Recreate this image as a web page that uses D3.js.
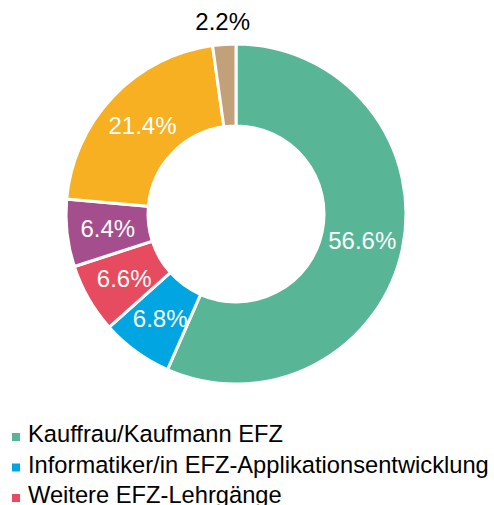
<!DOCTYPE html>
<html>
<head>
<meta charset="utf-8">
<script src="https://cdn.jsdelivr.net/npm/d3@7"></script>
<style>
  body { margin: 0; background: #fff; }
  svg { display: block; font-family: "Liberation Sans", Arial, sans-serif; }
</style>
</head>
<body>
<div id="chart"></div>
<script>
// shares in percent, clockwise from 12 o'clock
var categories = ["Kauffrau/Kaufmann EFZ", "Informatiker/in EFZ-Applikationsentwicklung", "Weitere EFZ-Lehrgänge", "EBA-Lehrgänge", "Weitere Abschlüsse", "Andere"];
var values = [56.6, 6.8, 6.6, 6.4, 21.4, 2.2];
var colors = ["#58b696", "#00a5e2", "#e74b5f", "#a44e8e", "#f6b022", "#c2a07a"];

var width = 494, height = 505;
var cx = 236, cy = 214, outerR = 170, innerR = 88;

var svg = d3.select("#chart").append("svg")
    .attr("width", width)
    .attr("height", height);

var g = svg.append("g")
    .attr("transform", "translate(" + cx + "," + cy + ")");

var pie = d3.pie().sort(null).value(function(d) { return d; });
var arc = d3.arc().innerRadius(innerR).outerRadius(outerR);
var arcs = pie(values);

g.selectAll("path.slice")
  .data(arcs)
  .enter().append("path")
    .attr("class", "slice")
    .attr("d", arc)
    .attr("fill", function(d, i) { return colors[i]; })
    .attr("stroke", "#fff")
    .attr("stroke-width", 3);

// small slices get their label outside the ring
var outerLabel = d3.arc().innerRadius(193).outerRadius(193);

g.selectAll("text.lbl")
  .data(arcs)
  .enter().append("text")
    .attr("class", "lbl")
    .attr("transform", function(d) {
      var p = d.data < 3 ? outerLabel.centroid(d) : arc.centroid(d);
      return "translate(" + p[0] + "," + p[1] + ")";
    })
    .attr("text-anchor", "middle")
    .attr("dy", "0.36em")
    .attr("font-size", 24)
    .attr("fill", function(d) { return d.data < 3 ? "#000" : "#fff"; })
    .text(function(d) { return d.data.toFixed(1) + "%"; });

// legend (only the first rows fit inside the picture)
var legend = svg.append("g").attr("transform", "translate(12,442)");
var rows = legend.selectAll("g")
  .data(categories)
  .enter().append("g")
    .attr("transform", function(d, i) { return "translate(0," + (i * 30.5) + ")"; });

rows.append("rect")
    .attr("x", 0).attr("y", -9)
    .attr("width", 8).attr("height", 8)
    .attr("fill", function(d, i) { return colors[i]; });

rows.append("text")
    .attr("x", 16)
    .attr("font-size", 23.7)
    .attr("fill", "#000")
    .text(function(d) { return d; });
</script>
</body>
</html>
